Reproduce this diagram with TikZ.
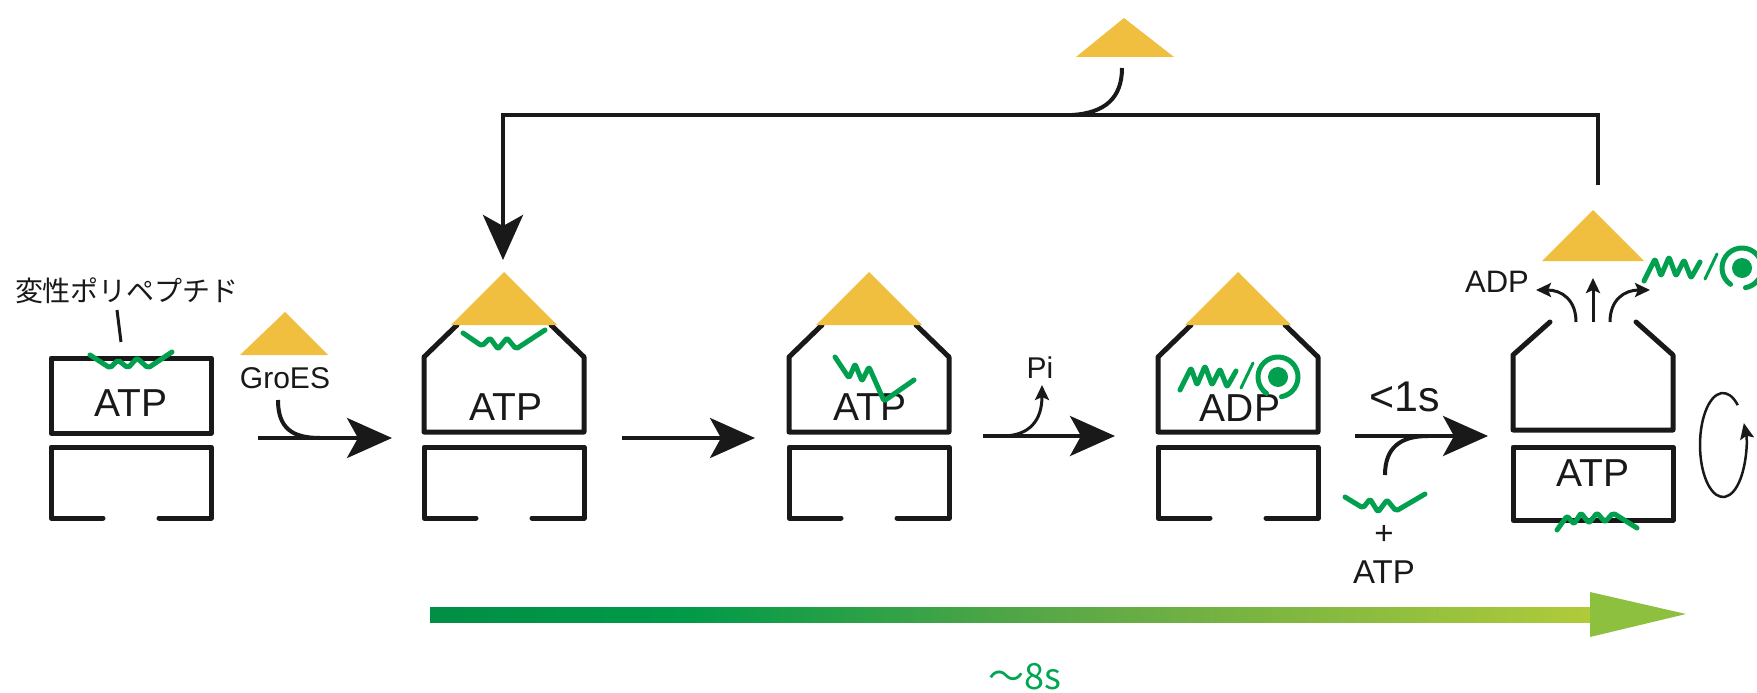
\documentclass[tikz,border=0pt]{standalone}
\usepackage{fontspec}
\setmainfont{Liberation Sans}
\newfontfamily\jpfont{Noto Sans CJK JP}
\usetikzlibrary{arrows.meta}
\definecolor{gold}{HTML}{F0BF40}
\definecolor{sqgreen}{HTML}{00A04E}
\definecolor{bardark}{HTML}{008F45}
\definecolor{barmid}{HTML}{009A48}
\definecolor{barmidb}{HTML}{5AA846}
\definecolor{barlight}{HTML}{B0CB3A}
\definecolor{barhead}{HTML}{8DC03F}
\definecolor{timegreen}{HTML}{00A651}
\pgfdeclarehorizontalshading{timebar}{100bp}{color(0bp)=(bardark); color(25bp)=(bardark); color(36bp)=(barmid); color(52bp)=(barmidb); color(75bp)=(barlight); color(100bp)=(barlight)}
\tikzset{
  ring/.style={draw=black!90, line width=5pt, line join=round, line cap=round},
  wig/.style={draw=sqgreen, line width=5pt, line join=round, line cap=round, rounded corners=2pt},
  lbl/.style={inner sep=0pt, text=black!90},
  fsz/.style={font=\fontsize{#1}{#1}\selectfont},
  bigarrow/.style={draw=black!90, line width=4pt, -{Stealth[length=45pt,width=40pt,inset=11pt]}},
  branch/.style={draw=black!90, line width=4pt},
  smallarrow/.style={draw=black!90, line width=3pt, -{Stealth[length=15pt,width=14pt,inset=3pt]}},
  fbline/.style={draw=black!90, line width=4.5pt, line join=miter},
  mvsp/.pic={
    \draw[wig] (-98,13) -- (-87,-9) -- (-81,8) -- (-73,-11) -- (-66,8) -- (-58,-8) -- (-51,10) -- (-42,-6);
    \draw[wig, line width=3pt] (-37,11) -- (-25,-14);
    \draw[wig] (-235:20) arc[start angle=-235, end angle=80, radius=20];
    \fill[sqgreen] (0,0) circle (10);
  }
}
\begin{document}
\begin{tikzpicture}[x=1pt, y=-1pt]
\useasboundingbox (0,0) rectangle (1757,693);

% lower open rings of the first four complexes
\foreach \c in {131,504,869,1238} {
  \draw[ring] (\c-28,518) -- (\c-80,518) -- (\c-80,447) -- (\c+80,447) -- (\c+80,518) -- (\c+28,518);
}
% capped upper rings with GroES lid
\foreach \c in {504,869,1238} {
  \draw[ring] (\c-47,325) -- (\c-80,357) -- (\c-80,432) -- (\c+80,432) -- (\c+80,357) -- (\c+47,325);
  \fill[gold] (\c-53,325) -- (\c,272) -- (\c+53,325) -- cycle;
}
% first complex: flat upper ring
\draw[ring] (51,358) rectangle (211,433);
% last complex: opened upper ring and closed lower ring
\draw[ring] (1550,322) -- (1513,355) -- (1513,430) -- (1673,430) -- (1673,355) -- (1636,322);
\draw[ring] (1513,447) rectangle (1673,520);

% nucleotide labels
\node[lbl, fsz=39] (n1) at (131,403) {ATP};
\node[lbl, fsz=39] (n2) at (506,407) {ATP};
\node[lbl, fsz=39] (n3) at (870,407) {ATP};
\node[lbl, fsz=39] (n4) at (1240,408) {ADP};
\node[lbl, fsz=39] (n5) at (1593,473) {ATP};

% denatured polypeptide label
\node[lbl, font=\jpfont\fontsize{28}{28}\selectfont] (poly) at (127,291) {変性ポリペプチド};
\coordinate (polya) at (117,310);
\coordinate (polyb) at (121,342);
\draw[black!90, line width=3pt] (polya) -- (polyb);

% polypeptide chains
\draw[wig] (90,355) -- (110,368) -- (118,360) -- (128,368) -- (137,358) -- (148,368) -- (172,352);
\draw[wig] (463,333) -- (482,346) -- (490,338) -- (498,349) -- (507,338) -- (516,349) -- (545,330);
\draw[wig] (835,357) -- (849,378) -- (855,364) -- (862,381) -- (869,367) -- (884,401) -- (914,380);
\pic at (1278,377) {mvsp};
\draw[wig] (1345,497) -- (1363,508) -- (1370,499) -- (1378,512) -- (1387,500) -- (1396,511) -- (1425,494);
\draw[wig] (1557,530) -- (1567,516) -- (1574,524) -- (1581,513) -- (1589,523) -- (1597,513) -- (1605,522) -- (1613,513) -- (1637,528);
\pic at (1742,268) {mvsp};

% GroES binding step
\fill[gold] (240,355) -- (285,312) -- (328,355) -- cycle;
\node[lbl, fsz=30] (groes) at (285,378) {GroES};
\coordinate (a1s) at (258,438);
\coordinate (a1e) at (392,438);
\coordinate (g1) at (278,400);
\coordinate (g2) at (320,438);
\draw[bigarrow] (a1s) -- (a1e);
\draw[branch] (g1) .. controls (278,428) and (292,438) .. (g2);

% folding step
\coordinate (a2s) at (622,438);
\coordinate (a2e) at (755,438);
\draw[bigarrow] (a2s) -- (a2e);

% hydrolysis step, release of Pi
\coordinate (a3s) at (983,436);
\coordinate (a3e) at (1115,436);
\coordinate (p1) at (1002,436);
\coordinate (p2) at (1042,385);
\draw[bigarrow] (a3s) -- (a3e);
\draw[smallarrow] (p1) .. controls (1030,436) and (1042,420) .. (p2);
\node[lbl, fsz=30] (pi) at (1040,368) {Pi};

% ATP and new substrate binding to the trans ring
\coordinate (a4s) at (1355,436);
\coordinate (a4e) at (1488,436);
\coordinate (b1) at (1385,475);
\coordinate (b2) at (1428,436);
\draw[bigarrow] (a4s) -- (a4e);
\draw[branch] (b1) .. controls (1385,448) and (1400,436) .. (b2);
\node[lbl, fsz=43] (fast) at (1405,397) {<1s};
\node[lbl, fsz=33] (plus) at (1384,535) {+};
\node[lbl, fsz=33] (atpin) at (1384,572) {ATP};

% release of GroES, ADP and substrate
\fill[gold] (1542,261) -- (1593,210) -- (1644,261) -- cycle;
\node[lbl, fsz=31] (adpout) at (1497,282) {ADP};
\coordinate (r0) at (1593,322);
\coordinate (r1) at (1593,278);
\coordinate (rl0) at (1576,322);
\coordinate (rl1) at (1536,290);
\coordinate (rr0) at (1610,322);
\coordinate (rr1) at (1650,290);
\draw[smallarrow] (r0) -- (r1);
\draw[smallarrow] (rl0) .. controls (1576,300) and (1562,290) .. (rl1);
\draw[smallarrow] (rr0) .. controls (1610,300) and (1624,290) .. (rr1);

% ring rotation symbol
\coordinate (rot) at (1723,445);
\draw[black!90, line width=2.5pt, -{Stealth[length=16pt,width=14pt,inset=3pt]}]
  (rot) ++(-50:23 and 52) arc[start angle=-50, end angle=-385, x radius=23, y radius=52];

% GroES recycling loop
\coordinate (f0) at (1598,185);
\coordinate (f1) at (1598,115);
\coordinate (f2) at (503,115);
\coordinate (f3) at (503,260);
\draw[fbline, -{Stealth[length=45pt,width=40pt,inset=11pt]}] (f0) -- (f1) -- (f2) -- (f3);
\fill[gold] (1076,57) -- (1124,18) -- (1174,57) -- cycle;
\coordinate (t0) at (1122,68);
\coordinate (t1) at (1072,115);
\draw[branch] (t0) .. controls (1122,98) and (1105,113) .. (t1);

% time bar
\shade[shading=timebar] (430,607) rectangle (1591,622);
\fill[barhead] (1590,592) -- (1686,614) -- (1590,637) -- cycle;
\node[inner sep=0pt, text=timegreen, font=\jpfont\fontsize{36}{36}\selectfont] (time) at (1025,677) {〜8s};
\end{tikzpicture}
\end{document}
